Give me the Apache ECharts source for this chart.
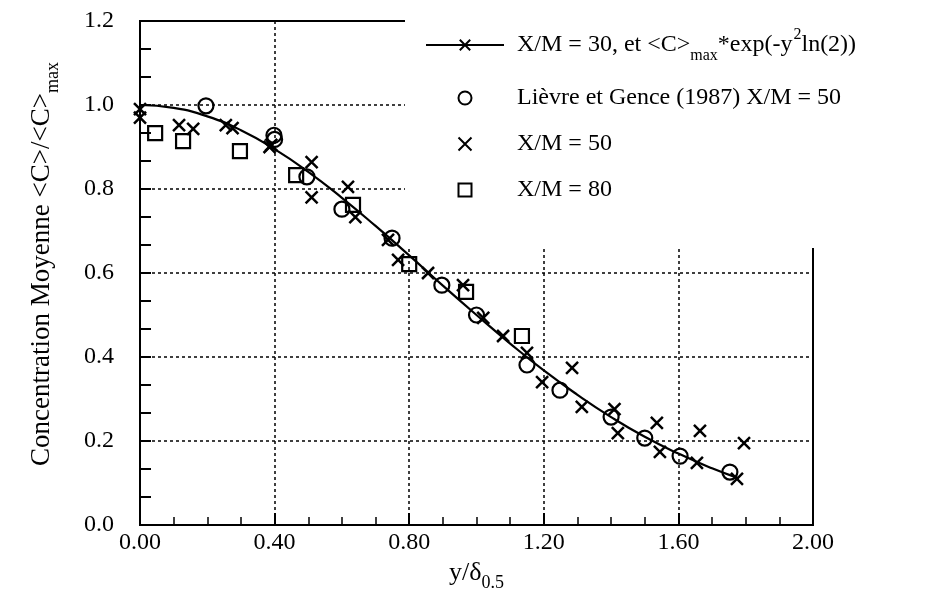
<!DOCTYPE html>
<html>
<head>
<meta charset="utf-8">
<script src="https://cdn.jsdelivr.net/npm/echarts@6/dist/echarts.min.js"></script>
<style>
  html, body { margin: 0; padding: 0; background: #fff; }
  #chart { width: 931px; height: 594px; }
</style>
</head>
<body>
<div id="chart"></div>
<script>
// Gaussian profile <C>max*exp(-y^2 ln2), sampled along y/δ0.5
const curveX = [0, 0.1, 0.2, 0.3, 0.4, 0.5, 0.6, 0.7, 0.8, 0.9, 1.0, 1.1, 1.2, 1.3, 1.4, 1.5, 1.6, 1.7, 1.78];
const curveY = [1.0, 0.993, 0.973, 0.940, 0.895, 0.841, 0.779, 0.712, 0.642, 0.570, 0.500, 0.432, 0.368, 0.310, 0.257, 0.210, 0.170, 0.135, 0.111];

// X/M = 30 measurements
const xm30X = [0.0, 0.255, 0.39, 0.64, 0.737, 0.856, 1.02, 1.079, 1.15, 1.655, 1.774];
const xm30Y = [0.99, 0.952, 0.905, 0.733, 0.679, 0.600, 0.493, 0.450, 0.410, 0.148, 0.110];

// Lièvre et Gence (1987), X/M = 50
const lgX = [0.196, 0.398, 0.400, 0.496, 0.600, 0.749, 0.897, 1.000, 1.150, 1.248, 1.400, 1.500, 1.605, 1.753];
const lgY = [0.998, 0.928, 0.918, 0.829, 0.752, 0.683, 0.571, 0.500, 0.381, 0.321, 0.257, 0.207, 0.164, 0.126];

// X/M = 50
const xm50X = [0.0, 0.116, 0.158, 0.275, 0.385, 0.51, 0.51, 0.618, 0.767, 0.96, 1.195, 1.284, 1.313, 1.41, 1.42, 1.536, 1.545, 1.664, 1.795];
const xm50Y = [0.97, 0.952, 0.943, 0.945, 0.900, 0.864, 0.780, 0.805, 0.631, 0.571, 0.340, 0.374, 0.281, 0.276, 0.219, 0.243, 0.174, 0.224, 0.195];

// X/M = 80
const xm80X = [0.045, 0.128, 0.297, 0.464, 0.633, 0.800, 0.969, 1.135];
const xm80Y = [0.933, 0.914, 0.890, 0.833, 0.762, 0.621, 0.555, 0.450];

// Axis ticks
const xTicks = [0, 0.4, 0.8, 1.2, 1.6, 2.0];
const yTicks = [0, 0.2, 0.4, 0.6, 0.8, 1.0, 1.2];

const zip = (xs, ys) => xs.map((x, i) => [x, ys[i]]);

const FONT = 'Liberation Serif';
const CROSS = 'path://M0,0L10,10M10,0L0,10';
const SQUARE = 'path://M0,0L10,0L10,10L0,10Z';

const NAME_FIT = 'X/M = 30, et <C>max*exp(-y2ln(2))';
const NAME_LG = 'Lièvre et Gence (1987) X/M = 50';
const NAME_50 = 'X/M = 50';
const NAME_80 = 'X/M = 80';

const legendRich = {};
legendRich[NAME_FIT] = '{t|X/M = 30, et <C>}{sub|max}{t|*exp(-y}{sup|2}{t|ln(2))}';

const legendStyles = {
  t: { fontFamily: FONT, fontSize: 24, color: '#000', lineHeight: 56 },
  sub: { fontFamily: FONT, fontSize: 16, color: '#000', verticalAlign: 'middle', padding: [22, 0, 0, 0] },
  sup: { fontFamily: FONT, fontSize: 16, color: '#000', verticalAlign: 'middle', padding: [0, 0, 20, 1] }
};

const hollow = { color: 'rgba(0,0,0,0)', borderColor: '#000', borderWidth: 2.2, opacity: 1 };
const crossStyle = { color: 'rgba(0,0,0,0)', borderColor: '#000', borderWidth: 2.5, opacity: 1 };

const chart = echarts.init(document.getElementById('chart'), null, { renderer: 'canvas' });

chart.setOption({
  animation: false,
  backgroundColor: '#fff',
  grid: {
    left: 140, right: 118, top: 21, bottom: 69,
    outerBoundsMode: 'none',
    containLabel: false,
    show: true, borderColor: '#000', borderWidth: 2, backgroundColor: 'transparent'
  },
  xAxis: {
    type: 'value',
    min: xTicks[0], max: xTicks[xTicks.length - 1], interval: 0.4,
    name: '{t|y/δ}{sub|0.5}',
    nameLocation: 'middle', nameGap: 24,
    nameTextStyle: { rich: {
      t: { fontFamily: FONT, fontSize: 26, color: '#000', lineHeight: 40 },
      sub: { fontFamily: FONT, fontSize: 18, color: '#000', verticalAlign: 'middle', padding: [20, 0, 0, 0] }
    } },
    axisLine: { show: true, onZero: false, lineStyle: { color: '#000', width: 2 } },
    axisTick: { show: true, inside: true, length: 12, lineStyle: { color: '#000', width: 2 } },
    minorTick: { show: true, splitNumber: 4, length: 8, lineStyle: { color: '#000', width: 1.5 } },
    axisLabel: {
      fontFamily: FONT, fontSize: 24, color: '#000', margin: 6,
      formatter: v => v.toFixed(2)
    },
    splitLine: { show: true, lineStyle: { color: '#000', type: [3, 3], width: 1.5 } }
  },
  yAxis: {
    type: 'value',
    min: yTicks[0], max: yTicks[yTicks.length - 1], interval: 0.2,
    name: '{t|Concentration Moyenne <C>/<C>}{sub|max}',
    nameLocation: 'middle', nameGap: 78, nameRotate: 90,
    nameTextStyle: {
      padding: [0, 0, 0, 18],
      rich: {
        t: { fontFamily: FONT, fontSize: 27, color: '#000', lineHeight: 40 },
        sub: { fontFamily: FONT, fontSize: 18, color: '#000', verticalAlign: 'middle', padding: [22, 0, 0, 0] }
      }
    },
    axisLine: { show: true, onZero: false, lineStyle: { color: '#000', width: 2 } },
    axisTick: { show: true, inside: true, length: 11, lineStyle: { color: '#000', width: 2 } },
    minorTick: { show: true, splitNumber: 3, length: 11, lineStyle: { color: '#000', width: 2 } },
    axisLabel: {
      fontFamily: FONT, fontSize: 24, color: '#000', margin: 26,
      formatter: v => v.toFixed(1)
    },
    splitLine: { show: true, lineStyle: { color: '#000', type: [3, 3], width: 1.5 } }
  },
  legend: {
    orient: 'vertical',
    left: 425, top: 27,
    padding: 0,
    itemWidth: 78, itemHeight: 13, itemGap: 22,
    selectedMode: false,
    data: [NAME_FIT, NAME_LG, NAME_50, NAME_80],
    formatter: name => legendRich[name] || name,
    textStyle: {
      fontFamily: FONT, fontSize: 24, color: '#000', padding: [0, 0, 0, 8],
      rich: legendStyles
    }
  },
  graphic: [{
    type: 'rect',
    z: 3,
    shape: { x: 405, y: 0, width: 526, height: 248 },
    style: { fill: '#fff' }
  }],
  series: [
    {
      name: NAME_FIT,
      type: 'line',
      smooth: true,
      data: zip(curveX, curveY),
      showSymbol: false,
      symbol: CROSS,
      symbolSize: 11,
      itemStyle: crossStyle,
      lineStyle: { color: '#000', width: 2.2 },
      z: 2
    },
    {
      name: 'X/M = 30',
      type: 'scatter',
      data: zip(xm30X, xm30Y),
      symbol: CROSS,
      symbolSize: 12,
      itemStyle: crossStyle,
      z: 2
    },
    {
      name: NAME_LG,
      type: 'scatter',
      data: zip(lgX, lgY),
      symbol: 'circle',
      symbolSize: 15,
      itemStyle: hollow,
      z: 2
    },
    {
      name: NAME_50,
      type: 'scatter',
      data: zip(xm50X, xm50Y),
      symbol: CROSS,
      symbolSize: 12,
      itemStyle: crossStyle,
      z: 2
    },
    {
      name: NAME_80,
      type: 'scatter',
      data: zip(xm80X, xm80Y),
      symbol: SQUARE,
      symbolSize: 14,
      itemStyle: hollow,
      z: 2
    }
  ]
});
</script>
</body>
</html>
